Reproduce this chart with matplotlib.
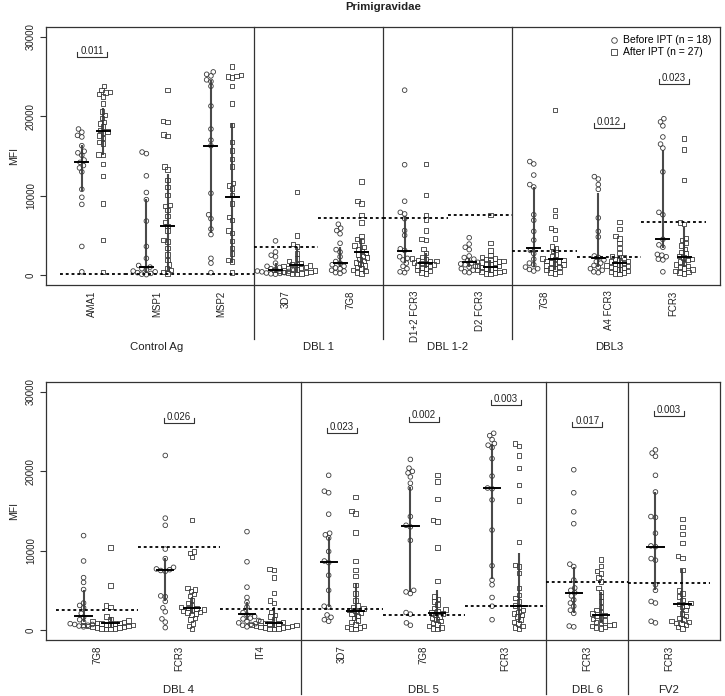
import numpy as np
import matplotlib.pyplot as plt
from matplotlib.lines import Line2D

plt.rcParams['font.family'] = ['Liberation Sans', 'DejaVu Sans']

# ---------------- top panel data ----------------
top_antigens = ["AMA1", "MSP1", "MSP2", "3D7", "7G8", "D1+2 FCR3", "D2 FCR3", "7G8", "A4 FCR3", "FCR3"]
top_groups = ["Control Ag", "DBL 1", "DBL 1-2", "DBL3"]
top_group_sizes = [3, 2, 2, 3]

ama1_before = [18400, 18000, 17600, 17400, 16300, 15600, 15400, 15100, 14500, 14200, 13800, 13500, 13000, 10800, 9800, 8900, 3600, 400]
ama1_after = [23800, 23300, 23100, 23000, 22800, 22500, 21600, 20600, 20200, 19800, 19300, 19100, 18700, 18300, 18100, 17900, 17600, 17300, 16800, 16600, 15200, 15100, 14000, 12500, 9000, 4400, 400]
msp1_before = [15500, 15300, 12500, 10400, 9500, 6800, 3600, 2100, 1200, 1000, 800, 650, 500, 400, 300, 200, 100, 50]
msp1_after = [23300, 19400, 19300, 17700, 17500, 13700, 13300, 12000, 11100, 10100, 8800, 8700, 8200, 7400, 6700, 6200, 5600, 4400, 4200, 3400, 2600, 1900, 1300, 800, 600, 400, 200]
msp2_before = [25600, 25300, 25100, 24600, 24400, 23800, 21300, 18400, 17000, 16300, 10300, 7600, 7100, 5800, 5100, 2100, 1500, 300]
msp2_after = [26300, 25200, 25100, 25000, 24900, 23800, 21600, 18900, 16800, 15700, 14600, 13700, 11600, 11300, 10900, 10100, 9000, 7300, 6900, 5600, 5300, 4300, 3400, 2700, 1900, 1700, 300]
dbl1_3d7_before = [4300, 2900, 2500, 2300, 1500, 1100, 950, 800, 700, 600, 500, 450, 400, 300, 250, 200, 150, 100]
dbl1_3d7_after = [10500, 5000, 3900, 3600, 2700, 2100, 1800, 1500, 1400, 1300, 1200, 1100, 1000, 900, 850, 750, 700, 600, 550, 500, 400, 350, 300, 250, 200, 150, 100]
dbl1_7g8_before = [6400, 5900, 5600, 5200, 4000, 3200, 2900, 2300, 1700, 1500, 1300, 1100, 900, 800, 600, 500, 300, 200]
dbl1_7g8_after = [11800, 9300, 9000, 7600, 6600, 4900, 4500, 4300, 3700, 3500, 3300, 3000, 2800, 2600, 2400, 2200, 2000, 1800, 1600, 1400, 1200, 1000, 800, 600, 500, 300, 200]
d12_fcr3_before = [23300, 13900, 9300, 7900, 7700, 7100, 5600, 5000, 3300, 3100, 2300, 2100, 1900, 1500, 1100, 800, 400, 300]
d12_fcr3_after = [14000, 10100, 7600, 7000, 5600, 4500, 4400, 3300, 2800, 2300, 2100, 2000, 1900, 1800, 1700, 1600, 1500, 1400, 1300, 1200, 1100, 900, 800, 600, 500, 300, 200]
d2_fcr3_before = [4700, 3900, 3500, 3200, 2400, 2200, 2000, 1800, 1600, 1500, 1400, 1300, 1100, 1000, 800, 600, 400, 300]
d2_fcr3_after = [7600, 4000, 3100, 2500, 2300, 2100, 2000, 1900, 1800, 1700, 1600, 1500, 1400, 1300, 1200, 1100, 1000, 900, 800, 700, 600, 500, 400, 350, 300, 200, 100]
dbl3_7g8_before = [14300, 14000, 12600, 11400, 11100, 7600, 6900, 5500, 4400, 3100, 2700, 2000, 1500, 1300, 1000, 800, 700, 500]
dbl3_7g8_after = [20800, 8200, 7400, 5900, 5700, 4600, 3600, 3400, 3000, 2600, 2400, 2100, 2000, 1900, 1800, 1700, 1600, 1400, 1300, 1200, 1000, 900, 800, 600, 400, 300, 200]
a4_fcr3_before = [12400, 12100, 11400, 10800, 7200, 5500, 4800, 2400, 2200, 1900, 1700, 1500, 1200, 1000, 800, 600, 400, 300]
a4_fcr3_after = [6700, 5800, 4900, 4600, 4000, 3400, 2800, 2400, 2200, 2000, 1900, 1800, 1700, 1500, 1400, 1300, 1200, 1100, 1000, 900, 800, 700, 500, 400, 300, 200, 100]
dbl3_fcr3_before = [19700, 19300, 18800, 17400, 16500, 16000, 13000, 7900, 7600, 4500, 3800, 3500, 2600, 2500, 2300, 2000, 1900, 400]
dbl3_fcr3_after = [17200, 15800, 12000, 6600, 6400, 4700, 4400, 4000, 3700, 3300, 2900, 2700, 2400, 2200, 2000, 1900, 1700, 1500, 1300, 1100, 1000, 800, 700, 500, 400, 300, 200]

top_med_before = [14240, 1050, 16260, 600, 1550, 3030, 1680, 3450, 2180, 4540]
top_lo_before = [10630, 290, 5250, 300, 1050, 1500, 1050, 1050, 1050, 3400]
top_hi_before = [16390, 9540, 24580, 1470, 3570, 7440, 2100, 11140, 10380, 15760]
top_med_after = [18150, 6180, 9870, 1260, 2860, 1470, 1050, 1970, 1500, 2230]
top_lo_after = [15130, 420, 1500, 420, 840, 840, 290, 630, 420, 1050]
top_hi_after = [21000, 12690, 19200, 3570, 4500, 2730, 1890, 3570, 2100, 6090]
top_cutoff = [150, 150, 150, 3530, 7180, 7180, 7560, 3030, 2270, 6680]
top_p_index = [0, 8, 9]
top_p_text = ["0.011", "0.012", "0.023"]
top_p_y = [27480, 18530, 24075]

# ---------------- bottom panel data ----------------
bot_antigens = ["7G8", "FCR3", "IT4", "3D7", "7G8", "FCR3", "FCR3", "FCR3"]
bot_groups = ["DBL 4", "DBL 5", "DBL 6", "FV2"]
bot_group_sizes = [3, 3, 1, 1]

dbl4_7g8_before = [11900, 8700, 6600, 6000, 5100, 3400, 3100, 2800, 2100, 1600, 1300, 1000, 800, 700, 700, 600, 500, 400]
dbl4_7g8_after = [10400, 5600, 3100, 2900, 1700, 1400, 1200, 1100, 1000, 900, 900, 800, 800, 700, 700, 600, 600, 500, 500, 400, 400, 300, 300, 200, 200, 100, 100]
dbl4_fcr3_before = [22000, 14100, 13200, 10200, 9000, 7900, 7700, 7600, 7500, 7400, 4300, 4200, 3600, 2800, 2300, 1400, 1000, 300]
dbl4_fcr3_after = [13900, 9900, 9700, 9200, 5300, 5100, 4900, 4500, 4300, 3800, 3400, 3100, 2900, 2800, 2700, 2600, 2500, 2400, 2300, 2200, 2100, 1900, 1500, 1300, 800, 500, 100]
dbl4_it4_before = [12400, 8600, 5400, 4100, 3500, 2900, 2200, 1900, 1700, 1500, 1400, 1200, 1100, 900, 800, 700, 600, 400]
dbl4_it4_after = [7700, 7600, 6600, 4700, 3700, 3400, 2300, 1900, 1700, 1300, 1100, 1000, 900, 800, 800, 700, 600, 600, 500, 500, 400, 400, 300, 300, 200, 100, 100]
dbl5_3d7_before = [19500, 17500, 17300, 14600, 12200, 12000, 11600, 9900, 8700, 8500, 6900, 5000, 3000, 2900, 1900, 1600, 1300, 1100]
dbl5_3d7_after = [16800, 15000, 14700, 12300, 8700, 7600, 6800, 5700, 4600, 3700, 3100, 2900, 2700, 2500, 2400, 2200, 2000, 1800, 1500, 1200, 1000, 700, 500, 400, 300, 200, 100]
dbl5_7g8_before = [21500, 20400, 20000, 19800, 19300, 18500, 17900, 14300, 13200, 13000, 11300, 5000, 4800, 4600, 2200, 2000, 900, 600]
dbl5_7g8_after = [19500, 18700, 16500, 13900, 13700, 10400, 6200, 4200, 3900, 3600, 3200, 2800, 2600, 2400, 2200, 2100, 1900, 1700, 1500, 1300, 1100, 900, 700, 500, 300, 200, 100]
dbl5_fcr3_before = [24800, 24500, 24000, 23500, 23300, 23000, 21600, 19400, 17900, 17800, 16400, 12600, 8100, 6300, 5700, 4100, 3000, 1300]
dbl5_fcr3_after = [23500, 23200, 22000, 20400, 18300, 16300, 11100, 8200, 8000, 7200, 5300, 4400, 4000, 3600, 3100, 2900, 2500, 2300, 2100, 1900, 1700, 1300, 1000, 800, 500, 300, 100]
dbl6_fcr3_before = [20200, 17300, 14900, 13400, 8300, 8000, 6300, 5300, 5000, 4700, 4300, 3800, 3400, 3000, 2500, 2100, 500, 400]
dbl6_fcr3_after = [8900, 8100, 7400, 7100, 6600, 6100, 5300, 4800, 4200, 3600, 2900, 2500, 2300, 2100, 1900, 1800, 1600, 1400, 1200, 1000, 900, 700, 600, 500, 400, 300, 200]
fv2_fcr3_before = [22700, 22300, 21900, 19500, 17400, 14300, 14200, 12200, 10600, 10500, 9000, 8800, 5700, 5000, 3600, 3400, 1100, 900]
fv2_fcr3_after = [14000, 13000, 12100, 11000, 9300, 9100, 7600, 5000, 4600, 4200, 3800, 3400, 3300, 3100, 2900, 2500, 2100, 1800, 1500, 1300, 1100, 1000, 900, 800, 600, 400, 200]

bot_med_before = [1760, 7560, 2020, 8610, 13110, 17860, 4620, 10510]
bot_lo_before = [1050, 3650, 1260, 2940, 4830, 6390, 2100, 5040]
bot_hi_before = [5040, 9030, 3570, 11770, 18070, 23450, 7980, 17440]
bot_med_after = [840, 2810, 840, 2440, 2180, 3030, 1890, 3240]
bot_lo_after = [420, 2180, 420, 1260, 1050, 840, 840, 920]
bot_hi_after = [1680, 4200, 2940, 5880, 5040, 9750, 4830, 7650]
bot_cutoff = [2520, 10500, 2650, 2610, 1890, 3070, 6010, 5880]
bot_p_index = [1, 3, 4, 5, 6, 7]
bot_p_text = ["0.026", "0.023", "0.002", "0.003", "0.017", "0.003"]
bot_p_y = [26130, 24790, 26260, 28360, 25550, 26970]

top_before = [ama1_before, msp1_before, msp2_before, dbl1_3d7_before, dbl1_7g8_before,
              d12_fcr3_before, d2_fcr3_before, dbl3_7g8_before, a4_fcr3_before, dbl3_fcr3_before]
top_after = [ama1_after, msp1_after, msp2_after, dbl1_3d7_after, dbl1_7g8_after,
             d12_fcr3_after, d2_fcr3_after, dbl3_7g8_after, a4_fcr3_after, dbl3_fcr3_after]
bot_before = [dbl4_7g8_before, dbl4_fcr3_before, dbl4_it4_before, dbl5_3d7_before,
              dbl5_7g8_before, dbl5_fcr3_before, dbl6_fcr3_before, fv2_fcr3_before]
bot_after = [dbl4_7g8_after, dbl4_fcr3_after, dbl4_it4_after, dbl5_3d7_after,
             dbl5_7g8_after, dbl5_fcr3_after, dbl6_fcr3_after, fv2_fcr3_after]

W, H = 725, 696
YLIM = (-1260, 31260)
AX_W, AX_H = 674, 258
PX_Y = AX_H / (YLIM[1] - YLIM[0])
INK = '#333333'


def swarm(ypix, d):
    # beeswarm-like horizontal offsets (pixels), points placed in ascending order
    ypix = np.asarray(ypix, float)
    xs = np.zeros(len(ypix))
    placed = []
    for i in np.argsort(ypix, kind='stable'):
        blocks = []
        cands = [0.0]
        for j in placed:
            dy = abs(ypix[j] - ypix[i])
            if dy < d:
                w = np.sqrt(d * d - dy * dy)
                blocks.append((xs[j] - w, xs[j] + w))
                cands += [xs[j] - w, xs[j] + w]
        cands.sort(key=lambda c: (abs(c), c))
        for c in cands:
            if all(not (lo + 1e-6 < c < hi - 1e-6) for lo, hi in blocks):
                xs[i] = c
                break
        placed.append(i)
    return xs


def draw_panel(ax, antigens, groups, sizes, before, after, med_b, lo_b, hi_b,
               med_a, lo_a, hi_a, cutoff, p_idx, p_txt, p_y, xlim, group_y, sep_y):
    n = len(antigens)
    ax.set_xlim(*xlim)
    ax.set_ylim(*YLIM)
    px_x = AX_W / (xlim[1] - xlim[0])
    off = 0.165
    d = 4.6
    for i in range(n):
        xc = i + 1
        for vals, sgn, mk, med, lo, hi in [(before[i], -1, 'o', med_b[i], lo_b[i], hi_b[i]),
                                           (after[i], 1, 's', med_a[i], lo_a[i], hi_a[i])]:
            xo = swarm(np.array(vals) * PX_Y, d) / px_x
            xx = xc + sgn * off
            ax.plot([xx, xx], [lo, hi], color='#4a4a4a', lw=1.5, zorder=2,
                    solid_capstyle='butt')
            ax.scatter(xx + xo, vals, marker=mk, s=11 if mk == 'o' else 10,
                       facecolors='none', edgecolors='#3a3a3a', linewidths=0.6, zorder=3)
            ax.plot([xx - 0.1, xx + 0.1], [med, med], color='black', lw=1.4, zorder=4)
        ax.plot([xc - 0.5, xc + 0.5], [cutoff[i], cutoff[i]], color='black', lw=1.3,
                linestyle=(0, (1.6, 1.6)), zorder=5)
    hw = 15 / px_x
    tick = 5 / PX_Y
    for k, txt, yv in zip(p_idx, p_txt, p_y):
        xc = k + 1
        ax.plot([xc - hw, xc - hw, xc + hw, xc + hw], [yv + tick, yv, yv, yv + tick],
                color=INK, lw=0.8)
        ax.text(xc, yv + 150, txt, ha='center', va='bottom', fontsize=7, color='#222222')
    # separators and group labels
    tr = ax.get_xaxis_transform()
    start = 0
    for g, s in zip(groups, sizes):
        ax.text(start + 1 + (s - 1) / 2, group_y, g, transform=tr, ha='center',
                va='center', fontsize=8.2, color='#222222')
        start += s
        if start < n:
            ax.add_line(Line2D([start + 0.5, start + 0.5], [sep_y, 1], transform=tr,
                               color=INK, lw=0.9, clip_on=False))
    ax.set_xticks(range(1, n + 1))
    ax.set_xticklabels(antigens, rotation=90, fontsize=7, color='#222222')
    ax.tick_params(axis='x', length=0, pad=4)
    ax.set_yticks([0, 10000, 20000, 30000])
    ax.set_yticklabels(['0', '10000', '20000', '30000'], rotation=90, va='center',
                       fontsize=7, color='#222222')
    ax.tick_params(axis='y', length=4.3, width=0.8, color=INK, pad=3)
    for sp in ax.spines.values():
        sp.set_color(INK)
        sp.set_linewidth(0.9)
    ax.set_ylabel('MFI', fontsize=7.5, labelpad=5, color='#222222')


fig = plt.figure(figsize=(W / 100, H / 100), dpi=100)
ax1 = fig.add_axes([46 / W, 1 - 285 / H, AX_W / W, AX_H / H])
ax2 = fig.add_axes([46 / W, 1 - 640 / H, AX_W / W, AX_H / H])

draw_panel(ax1, top_antigens, top_groups, top_group_sizes, top_before, top_after,
           top_med_before, top_lo_before, top_hi_before, top_med_after, top_lo_after,
           top_hi_after, top_cutoff, top_p_index, top_p_text, top_p_y,
           (0.28, 10.72), -0.24, -0.21)
draw_panel(ax2, bot_antigens, bot_groups, bot_group_sizes, bot_before, bot_after,
           bot_med_before, bot_lo_before, bot_hi_before, bot_med_after, bot_lo_after,
           bot_hi_after, bot_cutoff, bot_p_index, bot_p_text, bot_p_y,
           (0.375, 8.625), -0.194, -0.21)

handles = [Line2D([], [], marker='o', ls='none', mfc='none', mec='#3a3a3a', mew=0.6, ms=4),
           Line2D([], [], marker='s', ls='none', mfc='none', mec='#3a3a3a', mew=0.6, ms=3.8)]
ax1.legend(handles, ['Before IPT (n = 18)', 'After IPT (n = 27)'], loc='upper right',
           bbox_to_anchor=(1.0, 1.0), frameon=False, fontsize=7.5, handlelength=0.8,
           handletextpad=0.5, labelspacing=0.2, borderaxespad=0.5, borderpad=0.3)

fig.text(383 / W, 1 - 7 / H, 'Primigravidae', ha='center', va='center',
         fontsize=8.2, fontweight='bold', color='#222222')

fig.savefig('out.png', dpi=100)
